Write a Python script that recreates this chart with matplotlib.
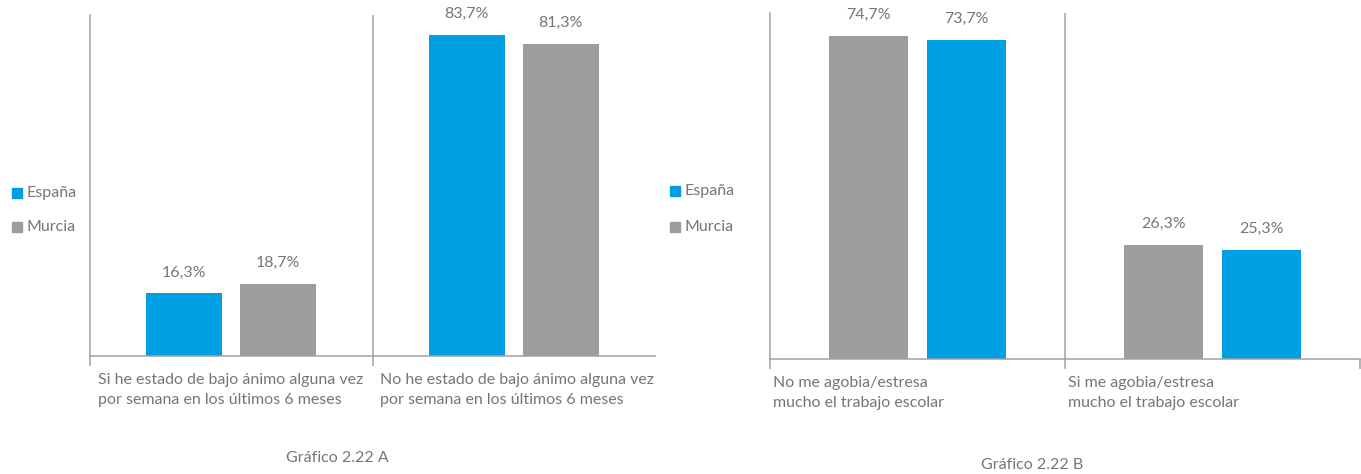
import matplotlib
matplotlib.use("Agg")
import matplotlib.pyplot as plt
import matplotlib.transforms as mtransforms
from matplotlib.patches import Rectangle

plt.rcParams['font.family'] = ['Lato', 'DejaVu Sans']

# ---- data ----
cats_a = ["Si he estado de bajo ánimo alguna vez\npor semana en los últimos 6 meses",
          "No he estado de bajo ánimo alguna vez\npor semana en los últimos 6 meses"]
espana_a = [16.3, 83.7]
murcia_a = [18.7, 81.3]
title_a = "Gráfico 2.22 A"

cats_b = ["No me agobia/estresa\nmucho el trabajo escolar",
          "Si me agobia/estresa\nmucho el trabajo escolar"]
murcia_b = [74.7, 26.3]
espana_b = [73.7, 25.3]
title_b = "Gráfico 2.22 B"

series_names = ["España", "Murcia"]

BLUE = "#009fe3"
GREY = "#9d9d9c"
AX = "#a0a0a0"
TXT = "#767676"

W, H = 1361, 474
fig = plt.figure(figsize=(W / 100, H / 100), dpi=100)


def px_axes(x0, x1, ybase, ytop):
    return fig.add_axes([x0 / W, (H - ybase) / H, (x1 - x0) / W, (ybase - ytop) / H])


def fmt(v):
    return f"{v:.1f}%".replace(".", ",")


def panel(ax, cats, first_vals, first_color, second_vals, second_color, ymax,
          width, offset, right_tick, lab_dx):
    xs = range(len(cats))
    b1 = ax.bar([x - offset for x in xs], first_vals, width=width, color=first_color)
    b2 = ax.bar([x + offset for x in xs], second_vals, width=width, color=second_color)
    for b, vals in ((b1, first_vals), (b2, second_vals)):
        ax.bar_label(b, labels=[fmt(v) for v in vals], padding=10,
                     color=TXT, fontsize=11.5)
    ax.set_xlim(-0.5, len(cats) - 0.5)
    ax.set_ylim(0, ymax)
    ax.set_yticks([])
    ticks = [-0.5 + i for i in range(len(cats) + (1 if right_tick else 0))]
    ax.set_xticks(ticks)
    ax.set_xticklabels([])
    ax.tick_params(axis='x', direction='out', length=7, width=1.1, color=AX)
    for s in ("top", "right"):
        ax.spines[s].set_visible(False)
    for s in ("left", "bottom"):
        ax.spines[s].set_color(AX)
        ax.spines[s].set_linewidth(1.1)
    for i in range(1, len(cats)):
        ax.axvline(i - 0.5, color=AX, lw=1.1)
    trans = mtransforms.blended_transform_factory(ax.transData, ax.transAxes)
    for i, c in enumerate(cats):
        t = ax.text(i - 0.5, 0, c, ha="left", va="top",
                    fontsize=11.5, color=TXT, linespacing=1.55)
        t.set_transform(trans + mtransforms.ScaledTranslation(lab_dx / 100, -17 / 100, fig.dpi_scale_trans))


def legend(x, y1, y2):
    for (yy, col, name) in ((y1, BLUE, series_names[0]), (y2, GREY, series_names[1])):
        fig.patches.append(Rectangle((x / W, (H - yy - 5) / H), 10 / W, 10 / H,
                                     transform=fig.transFigure, color=col))
        fig.text((x + 15) / W, (H - yy) / H, name, ha="left", va="center",
                 fontsize=11.5, color=TXT)


ax_a = px_axes(90, 655, 356, 15)
panel(ax_a, cats_a, espana_a, BLUE, murcia_a, GREY, 88.9, 0.27, 0.166, False, 8)
legend(12, 193, 227)
fig.text(337 / W, (H - 458) / H, title_a, ha="center", va="center", fontsize=11.5, color=TXT)

ax_b = px_axes(770, 1360, 359, 13)
panel(ax_b, cats_b, murcia_b, GREY, espana_b, BLUE, 80.0, 0.268, 0.165, True, 3)
legend(670, 191, 227)
fig.text(1032 / W, (H - 465) / H, title_b, ha="center", va="center", fontsize=11.5, color=TXT)

fig.savefig("out.png", dpi=100)
